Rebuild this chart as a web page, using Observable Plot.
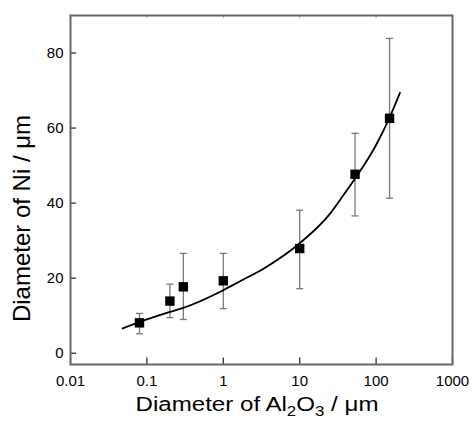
<!DOCTYPE html>
<html><head><meta charset="utf-8">
<script src="https://cdn.jsdelivr.net/npm/d3@7"></script>
<script src="https://cdn.jsdelivr.net/npm/@observablehq/plot@0.6"></script>
<style>body{margin:0;background:#fff;}</style>
</head><body><div id="chart"></div>
<script>
// Al2O3 particle diameter (µm) and measured Ni diameter (µm)
const sizes  = [0.08, 0.2, 0.3, 1, 10, 53, 150];
const niMean = [8.1, 13.9, 17.7, 19.3, 27.9, 47.7, 62.6];
const niLow  = [5.2, 9.5, 9.0, 11.9, 17.2, 36.6, 41.3];
const niHigh = [10.6, 18.4, 26.6, 26.6, 38.1, 58.6, 83.9];
// fitted curve
const fitX = [0.048, 0.08, 0.2, 0.3, 1, 1.7, 3.4, 10, 25, 35, 55, 100, 150, 205];
const fitY = [6.6, 8.3, 11.0, 12.1, 16.8, 19.3, 22.6, 29.3, 37.2, 41.3, 47.0, 55.5, 62.8, 69.4];
const xTicks = [0.01, 0.1, 1, 10, 100, 1000];
const xTickLabels = ["0.01", "0.1", "1", "10", "100", "1000"];
const yTicks = [0, 20, 40, 60, 80];
const xTitle = "Diameter of Al2O3 / μm";
const yTitle = "Diameter of Ni / μm";

const data = sizes.map((x, i) => ({x, y: niMean[i], lo: niLow[i], hi: niHigh[i]}));
const fit = fitX.map((x, i) => ({x, y: fitY[i]}));
const capSymbol = {draw(ctx) { ctx.moveTo(-3.5, 0); ctx.lineTo(3.5, 0); }};

const chart = Plot.plot({
  width: 473, height: 421,
  marginLeft: 70, marginRight: 21, marginTop: 15, marginBottom: 57,
  style: {fontFamily: "'Liberation Sans', Arial, sans-serif", fontSize: "15px", color: "#000", background: "#fff"},
  x: {type: "log", domain: [0.01, 1000]},
  y: {domain: [-3, 90]},
  marks: [
    Plot.axisX({ticks: xTicks, tickFormat: (d) => xTickLabels[xTicks.indexOf(d)], tickSize: 0, tickPadding: 11, label: null, fill: "#000"}),
    Plot.axisX({ticks: xTicks, tickFormat: () => "", tickSize: -6.5, label: null, stroke: "#333", strokeWidth: 1.3}),
    Plot.axisX({anchor: "top", ticks: xTicks, tickFormat: () => "", tickSize: -2, label: null, stroke: "#999", strokeWidth: 1}),
    Plot.axisY({ticks: yTicks, tickSize: 0, tickPadding: 7, label: null, fill: "#000"}),
    Plot.axisY({ticks: yTicks, tickFormat: () => "", tickSize: -6, label: null, stroke: "#333", strokeWidth: 1.3}),
    Plot.ruleX(data, {x: "x", y1: "lo", y2: "hi", stroke: "#7a7a7a", strokeWidth: 1.3}),
    Plot.dot(data, {x: "x", y: "lo", symbol: capSymbol, r: 3, stroke: "#7a7a7a", strokeWidth: 1.3, fill: "none"}),
    Plot.dot(data, {x: "x", y: "hi", symbol: capSymbol, r: 3, stroke: "#7a7a7a", strokeWidth: 1.3, fill: "none"}),
    Plot.line(fit, {x: "x", y: "y", curve: "monotone-x", stroke: "#000", strokeWidth: 1.8}),
    Plot.dot(data, {x: "x", y: "y", symbol: "square", r: 5.3, fill: "#000", stroke: "none"}),
    Plot.frame({stroke: "#666", strokeWidth: 2}),
    Plot.text([xTitle], {frameAnchor: "bottom", dx: -4.5, dy: 46, fontSize: 20, fill: "#000"}),
    Plot.text([yTitle], {frameAnchor: "left", rotate: -90, dx: -48.6, fontSize: 24, fill: "#000"})
  ]
});
document.getElementById("chart").appendChild(chart);

// title typography: subscripts, width and centring
const svgRect = chart.getBoundingClientRect();
chart.querySelectorAll("text").forEach(t => {
  if (t.textContent === xTitle) {
    t.textContent = "";
    const ns = "http://www.w3.org/2000/svg";
    const parts = [["Diameter of Al", 0, null], ["2", 5, "14px"], ["O", -5, null], ["3", 5, "14px"], [" / μm", -5, null]];
    for (const [s, dy, fs] of parts) {
      const sp = document.createElementNS(ns, "tspan");
      sp.textContent = s;
      if (dy) sp.setAttribute("dy", dy);
      if (fs) sp.setAttribute("font-size", fs);
      t.appendChild(sp);
    }
    t.setAttribute("textLength", 243);
    t.setAttribute("lengthAdjust", "spacingAndGlyphs");
  } else if (t.textContent === yTitle) {
    const r = t.getBoundingClientRect();
    const cy = r.top + r.height / 2 - svgRect.top;
    const shift = 218.5 - cy;
    t.setAttribute("transform", `translate(0,${shift}) ` + (t.getAttribute("transform") || ""));
  }
});
</script>
</body></html>
